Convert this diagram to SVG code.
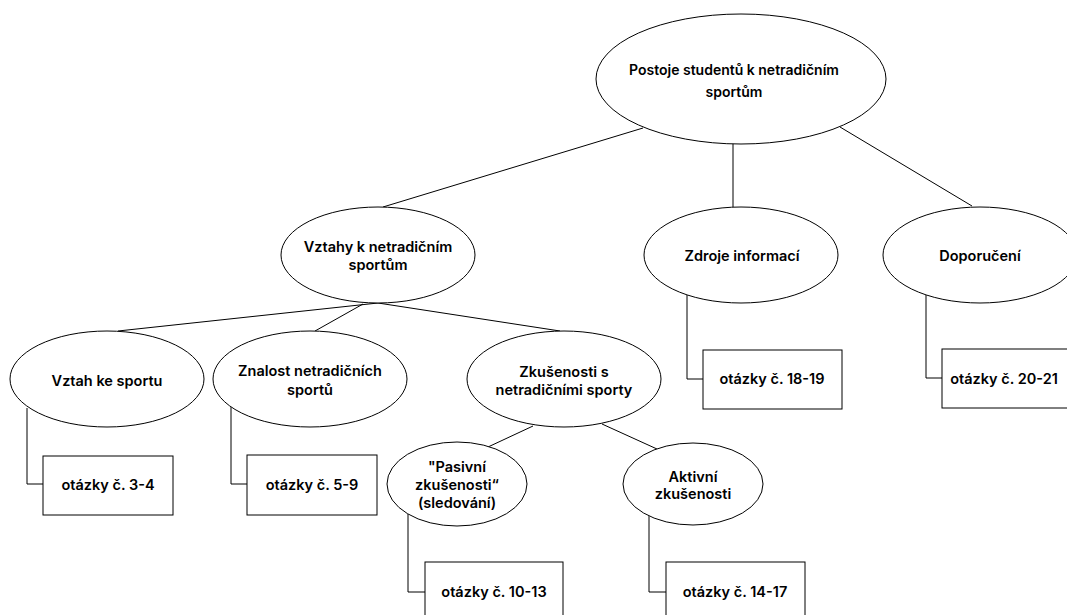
<svg xmlns="http://www.w3.org/2000/svg" width="1067" height="615" viewBox="0 0 1067 615">
<style>
.n{fill:#fff;stroke:#000;stroke-width:1}
.t{font-family:Inter,"Noto Sans","Liberation Sans",sans-serif;font-size:14.5px;font-weight:600;fill:#000;text-anchor:middle}
.r{font-size:14px}
.c{fill:none;stroke:#000;stroke-width:1}
</style>
<rect width="1067" height="615" fill="#fff"/>
<g id="connectors">
<line class="c" x1="643" y1="128" x2="383" y2="207"/>
<line class="c" x1="733" y1="143" x2="733" y2="207"/>
<line class="c" x1="840" y1="127" x2="972" y2="206"/>
<line class="c" x1="378" y1="303" x2="118" y2="331"/>
<line class="c" x1="363" y1="304" x2="315" y2="331"/>
<line class="c" x1="378" y1="303" x2="560" y2="331"/>
<line class="c" x1="533" y1="426" x2="488" y2="447"/>
<line class="c" x1="602" y1="424" x2="657" y2="449"/>
<polyline class="c" points="27,408 27,484 43,484"/>
<polyline class="c" points="231,407 231,484 247,484"/>
<polyline class="c" points="408,513 408,592 425,592"/>
<polyline class="c" points="649,513 649,592 666,592"/>
<polyline class="c" points="687,295 687,379 703,379"/>
<polyline class="c" points="926,295 926,378 942,378"/>
</g>
<g id="root"><ellipse class="n" cx="741" cy="79" rx="145" ry="65"/><text class="t r" x="734" y="75">Postoje studentů k netradičním</text><text class="t r" x="734" y="97">sportům</text></g>
<g id="vztahy"><ellipse class="n" cx="378" cy="255" rx="97" ry="48"/><text class="t" x="378" y="252">Vztahy k netradičním</text><text class="t" x="378" y="270">sportům</text></g>
<g id="zdroje"><ellipse class="n" cx="741" cy="255" rx="97" ry="48"/><text class="t" x="742" y="261">Zdroje informací</text></g>
<g id="doporuceni"><ellipse class="n" cx="980" cy="255" rx="97" ry="48"/><text class="t" x="980" y="261">Doporučení</text></g>
<g id="vztah-ke-sportu"><ellipse class="n" cx="107" cy="379" rx="97" ry="48"/><text class="t" x="107" y="386">Vztah ke sportu</text></g>
<g id="znalost"><ellipse class="n" cx="310" cy="379" rx="97" ry="48"/><text class="t" x="310" y="376">Znalost netradičních</text><text class="t" x="310" y="395">sportů</text></g>
<g id="zkusenosti"><ellipse class="n" cx="564" cy="379" rx="97" ry="48"/><text class="t" x="564" y="377">Zkušenosti s</text><text class="t" x="564" y="395">netradičními sporty</text></g>
<g id="pasivni"><ellipse class="n" cx="457" cy="484" rx="70" ry="42"/><text class="t" x="457" y="472">"Pasivní</text><text class="t" x="457" y="490">zkušenosti“</text><text class="t" x="457" y="508">(sledování)</text></g>
<g id="aktivni"><ellipse class="n" cx="693" cy="484" rx="70" ry="41"/><text class="t" x="693" y="482">Aktivní</text><text class="t" x="693" y="499">zkušenosti</text></g>
<g id="q3-4"><rect class="n" x="43" y="456" width="130" height="59"/><text class="t" x="108" y="490">otázky č. 3-4</text></g>
<g id="q5-9"><rect class="n" x="247" y="455" width="130" height="60"/><text class="t" x="312" y="490">otázky č. 5-9</text></g>
<g id="q10-13"><rect class="n" x="425" y="562" width="138" height="59"/><text class="t" x="494" y="597">otázky č. 10-13</text></g>
<g id="q14-17"><rect class="n" x="666" y="562" width="139" height="59"/><text class="t" x="735" y="597">otázky č. 14-17</text></g>
<g id="q18-19"><rect class="n" x="703" y="350" width="139" height="59"/><text class="t" x="772" y="384">otázky č. 18-19</text></g>
<g id="q20-21"><rect class="n" x="942" y="349" width="139" height="59"/><text class="t" x="1004" y="384">otázky č. 20-21</text></g>
</svg>
